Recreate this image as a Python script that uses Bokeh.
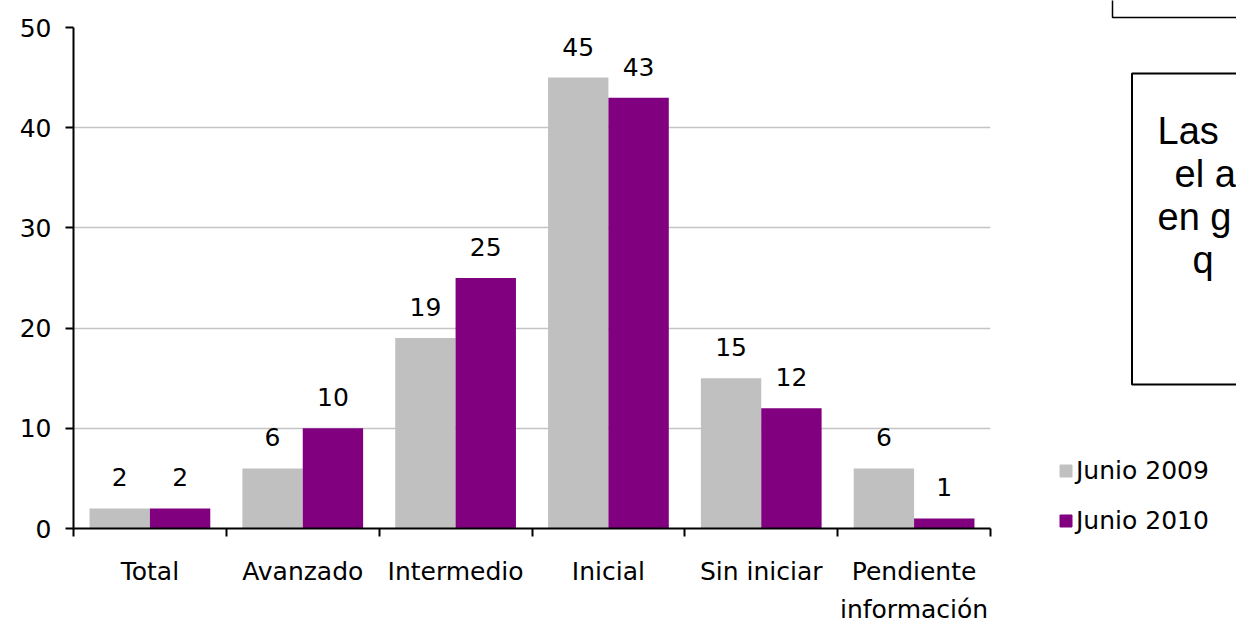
import numpy as np
from bokeh.plotting import figure
from bokeh.models import (ColumnDataSource, FixedTicker, LabelSet, Legend,
                          LegendItem, Range1d)
from bokeh.layouts import row
from bokeh.core.properties import value
from bokeh.embed import file_html
from bokeh.resources import INLINE

# ---- data -------------------------------------------------------------
categories = ["Total", "Avanzado", "Intermedio", "Inicial", "Sin iniciar",
              "Pendiente\ninformación"]
junio_2009 = [2, 6, 19, 45, 15, 6]
junio_2010 = [2, 10, 25, 43, 12, 1]
series_names = ["Junio 2009", "Junio 2010"]
y_ticks = [0, 10, 20, 30, 40, 50]

# text of the note box at the right (the box runs past the page edge)
note_lines = ["Las", "el a", "en g", "q"]

# ---- style ------------------------------------------------------------
GRAY = "#C0C0C0"
PURPLE = "#800080"
FONT = "DejaVu Sans"
FONT_SIZE = "25px"
BAR_W = 0.395

# ---- main bar chart ---------------------------------------------------
centers = np.arange(len(categories)) + 0.5
src = ColumnDataSource(dict(
    x09=centers - BAR_W / 2, x10=centers + BAR_W / 2,
    v09=junio_2009, v10=junio_2010,
    t09=[str(v) for v in junio_2009], t10=[str(v) for v in junio_2010],
))

p = figure(width=1040, height=627,
           x_range=Range1d(0, len(categories)), y_range=Range1d(0, 50),
           toolbar_location=None, output_backend="svg",
           min_border_left=73, min_border_right=50,
           min_border_top=27, min_border_bottom=98,
           outline_line_color=None, frame_align=False,
           background_fill_color="white", border_fill_color="white")

p.vbar(x="x09", top="v09", width=BAR_W, source=src,
       fill_color=GRAY, line_color=None)
p.vbar(x="x10", top="v10", width=BAR_W, source=src,
       fill_color=PURPLE, line_color=None)

for xf, yf, tf in (("x09", "v09", "t09"), ("x10", "v10", "t10")):
    p.add_layout(LabelSet(x=xf, y=yf, text=tf, source=src, y_offset=22,
                          text_align="center", text_baseline="alphabetic",
                          text_font=value(FONT), text_font_size=value(FONT_SIZE),
                          text_color="black"))

# x axis: labels centred on groups, tick marks on group boundaries
xa = p.xaxis[0]
xa.ticker = FixedTicker(ticks=list(centers),
                        minor_ticks=list(range(len(categories) + 1)))
xa.major_label_overrides = {float(c): lab for c, lab in zip(centers, categories)}
xa.major_tick_out = 0
xa.major_tick_in = 0
xa.major_tick_line_color = None
xa.minor_tick_out = 8
xa.minor_tick_in = 0
xa.minor_tick_line_color = "black"
xa.minor_tick_line_width = 2
xa.major_label_standoff = 20
xa.major_label_text_line_height = 1.33

ya = p.yaxis[0]
ya.ticker = FixedTicker(ticks=y_ticks)
ya.major_tick_out = 8
ya.major_tick_in = 0
ya.major_tick_line_width = 2
ya.minor_tick_line_color = None
ya.major_label_standoff = 14

for ax in (xa, ya):
    ax.axis_line_color = "black"
    ax.axis_line_width = 2
    ax.major_label_text_font = FONT
    ax.major_label_text_font_size = FONT_SIZE
    ax.major_label_text_color = "black"

p.xgrid.visible = False
p.ygrid.ticker = FixedTicker(ticks=y_ticks[1:])
p.ygrid.grid_line_color = "#C4C4C4"
p.ygrid.grid_line_width = 1.5

# ---- right-hand panel: legend and text boxes --------------------------
side = figure(width=196, height=627,
              x_range=Range1d(1040, 1236), y_range=Range1d(627, 0),
              toolbar_location=None, output_backend="svg",
              x_axis_location=None, y_axis_location=None,
              min_border=0, outline_line_color=None, frame_align=False,
              background_fill_color="white", border_fill_color="white")
side.xgrid.visible = False
side.ygrid.visible = False

# boxes (layout positions in page pixels)
side.quad(left=[1112], right=[1245], top=[-5], bottom=[17],
          fill_color=None, line_color="black", line_width=1.5)
side.quad(left=[1131.5], right=[1245], top=[73], bottom=[384],
          fill_color="white", line_color="black", line_width=2)

note_src = ColumnDataSource(dict(x=[1157, 1174, 1157, 1192],
                                 y=[143, 186, 229, 272],
                                 text=note_lines))
side.add_layout(LabelSet(x="x", y="y", text="text", source=note_src,
                         text_font=value("Liberation Sans"),
                         text_font_size=value("38px"),
                         text_align="left", text_baseline="alphabetic",
                         text_color="black"))

# legend keys: the bar series, hidden on this panel, shown only as swatches
key09 = side.vbar(x="x09", top="v09", width=BAR_W, source=src,
                  fill_color=GRAY, line_color=GRAY, visible=False)
key10 = side.vbar(x="x10", top="v10", width=BAR_W, source=src,
                  fill_color=PURPLE, line_color=PURPLE, visible=False)
legend = Legend(items=[LegendItem(label=series_names[0], renderers=[key09]),
                       LegendItem(label=series_names[1], renderers=[key10])],
                location=(18, 92), glyph_width=15, glyph_height=15,
                label_standoff=3, spacing=21, padding=0, margin=0,
                border_line_color=None, background_fill_alpha=0,
                inactive_fill_alpha=0,
                label_text_font=FONT, label_text_font_size=FONT_SIZE,
                label_text_color="black")
side.add_layout(legend)

layout = row(p, side, spacing=0)
open("out.html", "w").write(file_html(layout, INLINE))
